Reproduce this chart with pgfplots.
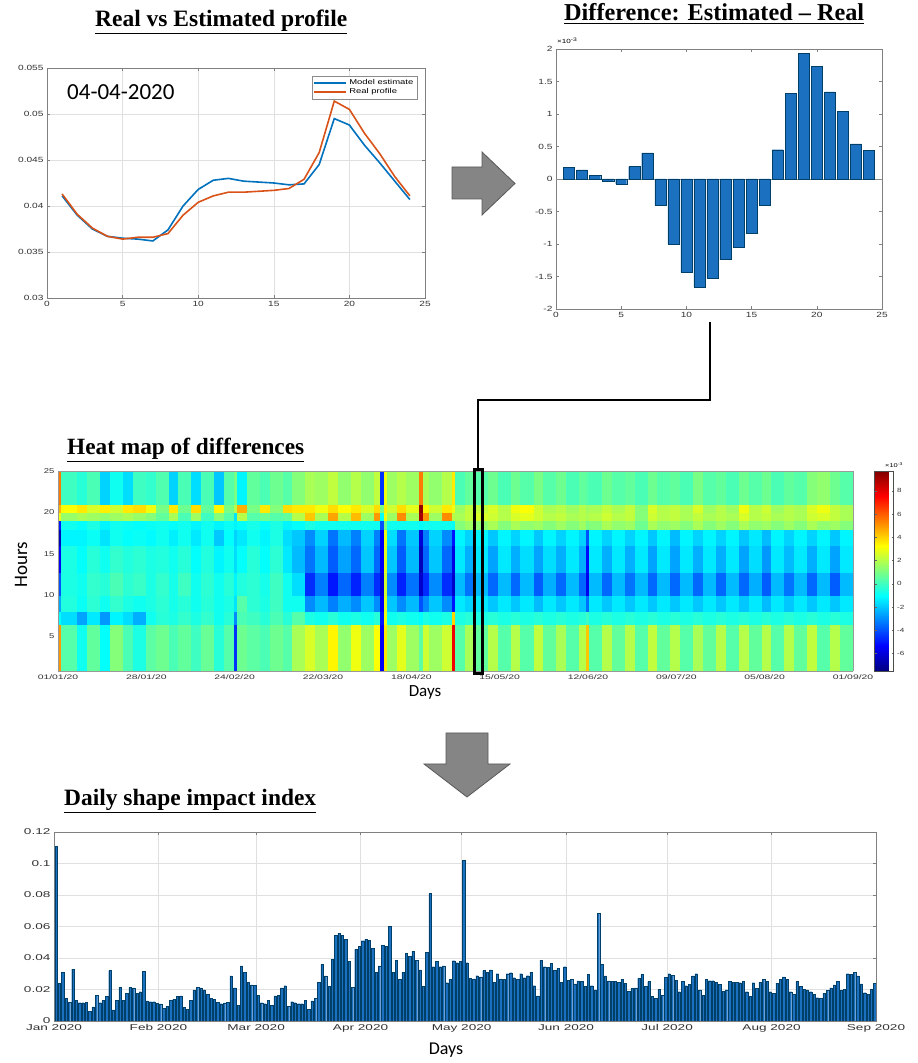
\documentclass[border=0pt]{standalone}
\usepackage{graphicx}
\usepackage{pgfplots}
\pgfplotsset{compat=1.18}
\usepackage{fontspec}
\setmainfont{Liberation Serif}
\newfontfamily\tf[FakeStretch=1.35]{Liberation Sans}
\newfontfamily\tfw[FakeStretch=1.6]{Liberation Sans}
\newfontfamily\cb{Carlito}
\definecolor{mblue}{RGB}{0,114,189}
\definecolor{morange}{RGB}{217,83,25}
\definecolor{barblue}{RGB}{28,112,192}
\pgfplotsset{
  matax/.style={
    scale only axis,
    scaled ticks=false,
    axis line style={black!50},
    tick style={black!50, line width=0.4pt},
    major tick length=3pt,
    tick align=inside,
    /pgf/number format/assume math mode=true,
    tick label style={text=black!80},
  }
}
\begin{document}
\begin{tikzpicture}
\fill[white] (0pt,0pt) rectangle (918pt,1063pt);
\useasboundingbox (0pt,0pt) rectangle (918pt,1063pt);

% ---------------- Top left: profiles
\begin{axis}[matax, at={(47pt,765pt)}, anchor=south west, width=378pt, height=230pt,
  xmin=0, xmax=25, ymin=0.03, ymax=0.055,
  xtick={0,5,10,15,20,25}, xticklabels={0,5,10,15,20,25},
  ytick={0.03,0.035,0.04,0.045,0.05,0.055}, yticklabels={0.03,0.035,0.04,0.045,0.05,0.055},
  grid=major, grid style={black!12},
  tick label style={font=\tf\fontsize{7.5}{8}\selectfont},
  legend style={at={(0.979,0.965)}, anchor=north east, font=\tf\fontsize{7}{8}\selectfont,
    draw=black!45, inner sep=1.5pt, row sep=-1.5pt},
  legend cell align=left,
  legend image code/.code={\draw[#1] (0pt,0pt) -- (32pt,0pt);},
]
\addplot[mblue, line width=1.6pt] coordinates {(1,0.0411)(2,0.0390)(3,0.0375)(4,0.0367)(5,0.0365)(6,0.0364)(7,0.0362)(8,0.0374)(9,0.0400)(10,0.0418)(11,0.0428)(12,0.0430)(13,0.0427)(14,0.0426)(15,0.0425)(16,0.0423)(17,0.0424)(18,0.0445)(19,0.0495)(20,0.0488)(21,0.0466)(22,0.0447)(23,0.0427)(24,0.0407)};
\addlegendentry{Model estimate}
\addplot[morange, line width=1.6pt] coordinates {(1,0.0413)(2,0.0391)(3,0.0376)(4,0.0367)(5,0.0364)(6,0.0366)(7,0.0366)(8,0.0370)(9,0.0390)(10,0.0404)(11,0.0411)(12,0.0415)(13,0.0415)(14,0.0416)(15,0.0417)(16,0.0419)(17,0.0429)(18,0.0458)(19,0.0514)(20,0.0505)(21,0.0479)(22,0.0457)(23,0.0432)(24,0.0411)};
\addlegendentry{Real profile}
\end{axis}

% ---------------- Top right: difference bars
\begin{axis}[matax, at={(556pt,754pt)}, anchor=south west, width=326pt, height=260pt,
  xmin=0, xmax=25, ymin=-2, ymax=2,
  xtick={0,5,10,15,20,25}, xticklabels={0,5,10,15,20,25},
  ytick={-2,-1.5,-1,-0.5,0,0.5,1,1.5,2}, yticklabels={-2,-1.5,-1,-0.5,0,0.5,1,1.5,2},
  tick label style={font=\tf\fontsize{7.5}{8}\selectfont},
]
\draw[black!45, line width=0.6pt] (axis cs:0,0) -- (axis cs:25,0);
\addplot[ybar, bar width=0.85, fill=barblue, draw=mblue!55!black, line width=0.3pt] coordinates {(1,0.18)(2,0.14)(3,0.06)(4,-0.03)(5,-0.08)(6,0.19)(7,0.40)(8,-0.41)(9,-1.00)(10,-1.43)(11,-1.66)(12,-1.53)(13,-1.24)(14,-1.05)(15,-0.84)(16,-0.40)(17,0.45)(18,1.32)(19,1.93)(20,1.73)(21,1.34)(22,1.04)(23,0.54)(24,0.44)};
\end{axis}

% ---------------- Heat map
\begin{axis}[at={(58pt,392pt)}, anchor=south west, width=795pt, height=200pt, scale only axis,
  view={0}{90}, xmin=0, xmax=244, ymin=0.8, ymax=25, ztick=\empty,
  xtick={0,27.111,54.222,81.333,108.444,135.556,162.667,189.778,216.889,244},
  xticklabels={01/01/20,28/01/20,24/02/20,22/03/20,18/04/20,15/05/20,12/06/20,09/07/20,05/08/20,01/09/20},
  ytick={5,10,15,20,25}, yticklabels={5,10,15,20,25},
  major tick length=0pt, axis line style={black!40}, axis on top,
  xticklabel style={font=\tfw\fontsize{6.5}{7}\selectfont, text=black!80},
  yticklabel style={font=\tf\fontsize{7}{8}\selectfont, text=black!80},
  colormap/jet, point meta min=-7.5, point meta max=9.7,
  colorbar,
  colorbar style={at={(parent axis.north east)}, anchor=north west, xshift=13pt,
    width=19pt, scale only axis,
    ytick={-6,-4,-2,0,2,4,6,8}, yticklabels={-6,-4,-2,0,2,4,6,8},
    yticklabel style={font=\tf\fontsize{6}{7}\selectfont, text=black!80},
    major tick length=2pt, axis line style={black!70}, tick style={black!60}},
]
\addplot3[surf, shader=flat corner] coordinates {
(0,0.8,5) (0,6.5,-1) (0,8,-2.5) (0,10,-4) (0,12.75,-5.5) (0,16,-6.5) (0,18,-5) (0,19,3) (0,20,4.5) (0,21,5.5) (0,25,5.5)

(1,0.8,0.4) (1,6.5,-1.6) (1,8,-0.5) (1,10,-0.6) (1,12.75,-0.6) (1,16,-1.2) (1,18,-0.8) (1,19,1.5) (1,20,3.2) (1,21,0) (1,25,0)

(6,0.8,-0.8) (6,6.5,-2.6) (6,8,-0.9) (6,10,-0.8) (6,12.75,-1) (6,16,-1.2) (6,18,-1) (6,19,1.8) (6,20,3.6) (6,21,-0.4) (6,25,-0.4)

(9,0.8,0.6) (9,6.5,-1.4) (9,8,-0.3) (9,10,-0.2) (9,12.75,-0.4) (9,16,-0.9) (9,18,-0.6) (9,19,1.6) (9,20,2.6) (9,21,0.2) (9,25,0.2)

(13,0.8,-1) (13,6.5,-2.8) (13,8,-0.8) (13,10,-0.4) (13,12.75,-0.8) (13,16,-1.5) (13,18,-1.2) (13,19,1.4) (13,20,3.5) (13,21,-1.8) (13,25,-1.8)

(16,0.8,1.2) (16,6.5,-1.2) (16,8,-0.2) (16,10,0.2) (16,12.75,-0.2) (16,16,-0.8) (16,18,-0.8) (16,19,1.6) (16,20,2.4) (16,21,-0.8) (16,25,-0.8)

(20,0.8,0.2) (20,6.5,-1.6) (20,8,-0.6) (20,10,-0.3) (20,12.75,-0.5) (20,16,-1) (20,18,-0.9) (20,19,1.8) (20,20,3.6) (20,21,-1.6) (20,25,-1.6)

(23,0.8,-0.6) (23,6.5,-2.4) (23,8,-0.8) (23,10,-0.1) (23,12.75,-0.3) (23,16,-0.9) (23,18,-1) (23,19,1.5) (23,20,3.8) (23,21,0) (23,25,0)

(27,0.8,0.5) (27,6.5,-0.8) (27,8,-0.6) (27,10,-0.6) (27,12.75,-0.6) (27,16,-1.1) (27,18,-0.9) (27,19,1.2) (27,20,3) (27,21,-0.2) (27,25,-0.2)

(30,0.8,0.8) (30,6.5,-0.4) (30,8,-0.3) (30,10,-0.2) (30,12.75,-0.5) (30,16,-0.8) (30,18,-0.8) (30,19,0.6) (30,20,1) (30,21,0.3) (30,25,0.3)

(34,0.8,0.2) (34,6.5,-0.6) (34,8,-0.7) (34,10,-0.7) (34,12.75,-0.8) (34,16,-1.3) (34,18,-1) (34,19,1.8) (34,20,3.6) (34,21,-1.8) (34,25,-1.8)

(37,0.8,0.6) (37,6.5,-0.2) (37,8,-0.4) (37,10,0) (37,12.75,-0.4) (37,16,-0.8) (37,18,-0.8) (37,19,0.2) (37,20,0.8) (37,21,0.2) (37,25,0.2)

(41,0.8,0) (41,6.5,-0.6) (41,8,-0.8) (41,10,-0.8) (41,12.75,-1) (41,16,-1.4) (41,18,-1.2) (41,19,1.6) (41,20,3.8) (41,21,-1.6) (41,25,-1.6)

(44,0.8,0.7) (44,6.5,-0.2) (44,8,-0.4) (44,10,-0.3) (44,12.75,-0.5) (44,16,-0.8) (44,18,-0.8) (44,19,0) (44,20,0.6) (44,21,0.2) (44,25,0.2)

(48,0.8,-0.4) (48,6.5,-0.8) (48,8,-0.8) (48,10,-0.8) (48,12.75,-1.2) (48,16,-2) (48,18,-1.2) (48,19,1.2) (48,20,3.4) (48,21,-2) (48,25,-2)

(51,0.8,0.4) (51,6.5,-0.4) (51,8,-0.6) (51,10,-0.4) (51,12.75,-0.8) (51,16,-1) (51,18,-0.9) (51,19,0.4) (51,20,1) (51,21,0.4) (51,25,0.4)

(54,0.8,-4.5) (54,6.5,-3) (54,8,-1.5) (54,10,-1.2) (54,12.75,-1.6) (54,16,-1.8) (54,18,-1.2) (54,19,-1.5) (54,20,2) (54,21,1) (54,25,1)

(55,0.8,0.8) (55,6.5,0.2) (55,8,0.4) (55,10,-0.5) (55,12.75,-1) (55,16,-1.4) (55,18,-1) (55,19,2) (55,20,4.6) (55,21,-1.2) (55,25,-1.2)

(58,0.8,0.5) (58,6.5,0) (58,8,-0.3) (58,10,-0.3) (58,12.75,-0.4) (58,16,-0.8) (58,18,-0.7) (58,19,0.4) (58,20,1) (58,21,0.6) (58,25,0.6)

(62,0.8,0.2) (62,6.5,-0.4) (62,8,-0.6) (62,10,-0.7) (62,12.75,-1) (62,16,-1.2) (62,18,-1) (62,19,0.8) (62,20,3.6) (62,21,0.2) (62,25,0.2)

(65,0.8,0.8) (65,6.5,0.2) (65,8,0) (65,10,0) (65,12.75,-0.3) (65,16,-0.6) (65,18,-0.6) (65,19,0.4) (65,20,1.2) (65,21,0.8) (65,25,0.8)

(69,0.8,0.4) (69,6.5,-0.4) (69,8,-0.8) (69,10,-0.8) (69,12.75,-1.4) (69,16,-1.6) (69,18,-1.2) (69,19,0.6) (69,20,3.8) (69,21,0.4) (69,25,0.4)

(72,0.8,1.8) (72,6.5,0.4) (72,8,-0.8) (72,10,-1.6) (72,12.75,-2.2) (72,16,-2) (72,18,-1) (72,19,2) (72,20,3.6) (72,21,1.2) (72,25,1.2)

(76,0.8,2.6) (76,6.5,-0.6) (76,8,-3) (76,10,-4.6) (76,12.75,-3.4) (76,16,-3) (76,18,-0.6) (76,19,4.2) (76,20,3.6) (76,21,1.8) (76,25,1.8)

(79,0.8,1.8) (79,6.5,-0.8) (79,8,-2.2) (79,10,-3.2) (79,12.75,-2.2) (79,16,-1.8) (79,18,-0.8) (79,19,1.8) (79,20,3) (79,21,1.6) (79,25,1.6)

(83,0.8,3.4) (83,6.5,-0.4) (83,8,-3.2) (83,10,-5) (83,12.75,-3.8) (83,16,-3.4) (83,18,-0.8) (83,19,4.8) (83,20,3.8) (83,21,2.2) (83,25,2.2)

(86,0.8,1.4) (86,6.5,-0.8) (86,8,-2.4) (86,10,-3.6) (86,12.75,-2.6) (86,16,-2.2) (86,18,-0.8) (86,19,2) (86,20,3.2) (86,21,1.4) (86,25,1.4)

(90,0.8,3) (90,6.5,-0.6) (90,8,-3) (90,10,-4.8) (90,12.75,-3.6) (90,16,-3.2) (90,18,-0.8) (90,19,4.4) (90,20,3.6) (90,21,2) (90,25,2)

(93,0.8,1.6) (93,6.5,-0.8) (93,8,-2) (93,10,-3.2) (93,12.75,-2) (93,16,-1.8) (93,18,-0.8) (93,19,1.6) (93,20,2.6) (93,21,1.4) (93,25,1.4)

(97,0.8,3.2) (97,6.5,-0.4) (97,8,-3) (97,10,-4.6) (97,12.75,-3.6) (97,16,-3.2) (97,18,-0.8) (97,19,5) (97,20,3.8) (97,21,2.2) (97,25,2.2)

(99,0.8,-5.5) (99,6.5,-5) (99,8,-5.5) (99,10,-6) (99,12.75,-5.5) (99,16,-5.5) (99,18,-4) (99,19,-1) (99,20,1) (99,21,-4.5) (99,25,-4.5)

(100,0.8,3.6) (100,6.5,3) (100,8,2.8) (100,10,2.5) (100,12.75,2.8) (100,16,3) (100,18,1) (100,19,3) (100,20,3.5) (100,21,3) (100,25,3)

(101,0.8,1.6) (101,6.5,-0.8) (101,8,-2) (101,10,-3) (101,12.75,-2) (101,16,-1.6) (101,18,-0.8) (101,19,1.6) (101,20,2.4) (101,21,1.6) (101,25,1.6)

(104,0.8,2.8) (104,6.5,-0.6) (104,8,-3) (104,10,-4.8) (104,12.75,-3.8) (104,16,-3.4) (104,18,-0.8) (104,19,5.2) (104,20,3.8) (104,21,2) (104,25,2)

(107,0.8,1.6) (107,6.5,-0.8) (107,8,-2.2) (107,10,-3.4) (107,12.75,-2.2) (107,16,-2) (107,18,-0.8) (107,19,1.8) (107,20,2.8) (107,21,1.6) (107,25,1.6)

(111,0.8,0.5) (111,6.5,-1) (111,8,-4) (111,10,-6.2) (111,12.75,-6.5) (111,16,-6) (111,18,-1) (111,19,9) (111,20,9.5) (111,21,5.5) (111,25,5.5)

(112,0.8,2.4) (112,6.5,-0.6) (112,8,-3) (112,10,-4.6) (112,12.75,-3.6) (112,16,-3.2) (112,18,-0.8) (112,19,5) (112,20,3.4) (112,21,1.8) (112,25,1.8)

(114,0.8,1.6) (114,6.5,-0.8) (114,8,-2) (114,10,-3) (114,12.75,-2) (114,16,-1.8) (114,18,-0.8) (114,19,1.6) (114,20,2.4) (114,21,1.4) (114,25,1.4)

(118,0.8,2.4) (118,6.5,-0.6) (118,8,-3) (118,10,-4.6) (118,12.75,-3.6) (118,16,-3) (118,18,-0.8) (118,19,5.2) (118,20,3.6) (118,21,2) (118,25,2)

(121,0.8,7.8) (121,6.5,4) (121,8,-5) (121,10,-6.2) (121,12.75,-5.8) (121,16,-5) (121,18,-1) (121,19,2) (121,20,3) (121,21,3.6) (121,25,3.6)

(122,0.8,0.4) (122,6.5,-0.6) (122,8,-1.4) (122,10,-2.2) (122,12.75,-1.4) (122,16,-1.2) (122,18,1.2) (122,19,1.8) (122,20,1.6) (122,21,0.2) (122,25,0.2)

(125,0.8,1.8) (125,6.5,-0.4) (125,8,-1.8) (125,10,-3.4) (125,12.75,-2.4) (125,16,-1.8) (125,18,1.6) (125,19,2.2) (125,20,2.2) (125,21,0.6) (125,25,0.6)

(128,0.8,0.6) (128,6.5,-0.6) (128,8,-1.4) (128,10,-2.2) (128,12.75,-1.4) (128,16,-1.2) (128,18,1.4) (128,19,2.6) (128,20,2.2) (128,21,0.4) (128,25,0.4)

(132,0.8,2) (132,6.5,-0.4) (132,8,-2) (132,10,-3.6) (132,12.75,-2.6) (132,16,-2) (132,18,1.8) (132,19,2.4) (132,20,2.6) (132,21,0.8) (132,25,0.8)

(135,0.8,0.4) (135,6.5,-0.6) (135,8,-1.4) (135,10,-2.2) (135,12.75,-1.4) (135,16,-1.2) (135,18,1.2) (135,19,2) (135,20,2) (135,21,0.2) (135,25,0.2)

(139,0.8,2) (139,6.5,-0.4) (139,8,-2) (139,10,-3.6) (139,12.75,-2.4) (139,16,-1.8) (139,18,1.8) (139,19,2.6) (139,20,3) (139,21,0.8) (139,25,0.8)

(142,0.8,0.4) (142,6.5,-0.6) (142,8,-1.4) (142,10,-2.2) (142,12.75,-1.6) (142,16,-1.2) (142,18,1.4) (142,19,2.8) (142,20,3.2) (142,21,0.4) (142,25,0.4)

(146,0.8,2.2) (146,6.5,-0.4) (146,8,-2.2) (146,10,-3.8) (146,12.75,-2.6) (146,16,-2) (146,18,1.6) (146,19,2.4) (146,20,2.4) (146,21,1) (146,25,1)

(149,0.8,0.6) (149,6.5,-0.6) (149,8,-1.4) (149,10,-2.4) (149,12.75,-1.6) (149,16,-1.2) (149,18,1.2) (149,19,2) (149,20,1.8) (149,21,0.4) (149,25,0.4)

(153,0.8,1.8) (153,6.5,-0.4) (153,8,-2) (153,10,-3.6) (153,12.75,-2.4) (153,16,-1.8) (153,18,1.6) (153,19,2.2) (153,20,2) (153,21,0.8) (153,25,0.8)

(156,0.8,0.4) (156,6.5,-0.6) (156,8,-1.4) (156,10,-2.2) (156,12.75,-1.4) (156,16,-1.2) (156,18,1.2) (156,19,1.8) (156,20,1.6) (156,21,0.2) (156,25,0.2)

(160,0.8,2) (160,6.5,-0.4) (160,8,-2) (160,10,-3.6) (160,12.75,-2.4) (160,16,-1.8) (160,18,1.6) (160,19,2) (160,20,2) (160,21,0.6) (160,25,0.6)

(162,0.8,4.2) (162,6.5,0) (162,8,-3.5) (162,10,-5.6) (162,12.75,-5.2) (162,16,-4) (162,18,1) (162,19,1.8) (162,20,1.6) (162,21,0.4) (162,25,0.4)

(163,0.8,0.4) (163,6.5,-0.6) (163,8,-1.4) (163,10,-2.2) (163,12.75,-1.4) (163,16,-1.2) (163,18,1.2) (163,19,2) (163,20,1.8) (163,21,0.2) (163,25,0.2)

(167,0.8,2) (167,6.5,-0.4) (167,8,-2) (167,10,-3.6) (167,12.75,-2.4) (167,16,-1.8) (167,18,1.8) (167,19,2.4) (167,20,2.2) (167,21,0.8) (167,25,0.8)

(170,0.8,0.6) (170,6.5,-0.6) (170,8,-1.4) (170,10,-2.2) (170,12.75,-1.4) (170,16,-1.2) (170,18,1.4) (170,19,2) (170,20,1.8) (170,21,0.4) (170,25,0.4)

(174,0.8,2) (174,6.5,-0.4) (174,8,-2) (174,10,-3.4) (174,12.75,-2.4) (174,16,-1.8) (174,18,1.6) (174,19,2.2) (174,20,2.2) (174,21,0.6) (174,25,0.6)

(177,0.8,0.4) (177,6.5,-0.6) (177,8,-1.4) (177,10,-2.2) (177,12.75,-1.4) (177,16,-1.2) (177,18,0.8) (177,19,1.2) (177,20,1.2) (177,21,0.2) (177,25,0.2)

(181,0.8,2.2) (181,6.5,-0.4) (181,8,-2) (181,10,-3.6) (181,12.75,-2.6) (181,16,-2) (181,18,1.8) (181,19,2.4) (181,20,2.6) (181,21,0.8) (181,25,0.8)

(184,0.8,0.6) (184,6.5,-0.6) (184,8,-1.4) (184,10,-2.2) (184,12.75,-1.4) (184,16,-1.2) (184,18,1.4) (184,19,2) (184,20,2) (184,21,0.4) (184,25,0.4)

(188,0.8,2) (188,6.5,-0.4) (188,8,-2) (188,10,-3.6) (188,12.75,-2.6) (188,16,-2.2) (188,18,1.6) (188,19,2.2) (188,20,2.2) (188,21,0.6) (188,25,0.6)

(191,0.8,0.4) (191,6.5,-0.6) (191,8,-1.4) (191,10,-2.2) (191,12.75,-1.4) (191,16,-1.2) (191,18,1.2) (191,19,1.8) (191,20,1.8) (191,21,0.2) (191,25,0.2)

(195,0.8,1.8) (195,6.5,-0.4) (195,8,-2) (195,10,-3.6) (195,12.75,-2.4) (195,16,-1.8) (195,18,1.8) (195,19,2.2) (195,20,2.6) (195,21,1) (195,25,1)

(198,0.8,0.6) (198,6.5,-0.6) (198,8,-1.4) (198,10,-2.2) (198,12.75,-1.4) (198,16,-1.2) (198,18,1.2) (198,19,1.8) (198,20,1.6) (198,21,0.4) (198,25,0.4)

(202,0.8,2) (202,6.5,-0.4) (202,8,-2) (202,10,-3.6) (202,12.75,-2.4) (202,16,-1.8) (202,18,1.6) (202,19,2) (202,20,2) (202,21,0.6) (202,25,0.6)

(205,0.8,0.4) (205,6.5,-0.6) (205,8,-1.4) (205,10,-2.2) (205,12.75,-1.4) (205,16,-1.2) (205,18,1.2) (205,19,1.8) (205,20,1.6) (205,21,0.2) (205,25,0.2)

(209,0.8,2) (209,6.5,-0.4) (209,8,-2) (209,10,-3.6) (209,12.75,-2.6) (209,16,-2) (209,18,1.8) (209,19,2.6) (209,20,3) (209,21,0.8) (209,25,0.8)

(212,0.8,0.6) (212,6.5,-0.6) (212,8,-1.4) (212,10,-2.4) (212,12.75,-1.6) (212,16,-1.4) (212,18,1.4) (212,19,2) (212,20,2) (212,21,0.4) (212,25,0.4)

(216,0.8,2) (216,6.5,-0.4) (216,8,-2.2) (216,10,-3.8) (216,12.75,-2.8) (216,16,-2.2) (216,18,1.6) (216,19,2.2) (216,20,2.4) (216,21,0.8) (216,25,0.8)

(219,0.8,0.4) (219,6.5,-0.6) (219,8,-1.4) (219,10,-2.2) (219,12.75,-1.4) (219,16,-1.2) (219,18,1.2) (219,19,1.8) (219,20,1.6) (219,21,0.2) (219,25,0.2)

(223,0.8,2) (223,6.5,-0.4) (223,8,-2) (223,10,-3.4) (223,12.75,-2.2) (223,16,-1.8) (223,18,1.6) (223,19,2) (223,20,2) (223,21,0.6) (223,25,0.6)

(226,0.8,0.6) (226,6.5,-0.6) (226,8,-1.4) (226,10,-2.2) (226,12.75,-1.4) (226,16,-1.2) (226,18,1.2) (226,19,1.8) (226,20,1.8) (226,21,0.4) (226,25,0.4)

(230,0.8,2.2) (230,6.5,-0.4) (230,8,-2) (230,10,-3.6) (230,12.75,-2.4) (230,16,-1.8) (230,18,1.8) (230,19,2.4) (230,20,2.6) (230,21,1.2) (230,25,1.2)

(233,0.8,0.4) (233,6.5,-0.6) (233,8,-1.4) (233,10,-2.2) (233,12.75,-1.4) (233,16,-1.2) (233,18,1.4) (233,19,2.6) (233,20,3) (233,21,1.4) (233,25,1.4)

(237,0.8,2) (237,6.5,-0.4) (237,8,-2) (237,10,-3.8) (237,12.75,-2.6) (237,16,-2) (237,18,1.6) (237,19,2.2) (237,20,2.2) (237,21,0.8) (237,25,0.8)

(240,0.8,0.6) (240,6.5,-0.6) (240,8,-1.4) (240,10,-2.2) (240,12.75,-1.4) (240,16,-1.2) (240,18,1.2) (240,19,1.8) (240,20,1.8) (240,21,0.4) (240,25,0.4)

(244,0.8,0.6) (244,6.5,-0.6) (244,8,-1.4) (244,10,-2.2) (244,12.75,-1.4) (244,16,-1.2) (244,18,1.2) (244,19,1.8) (244,20,1.8) (244,21,0.4) (244,25,0.4)
};
\end{axis}

% ---------------- Bottom: daily index
\begin{axis}[matax, at={(54pt,42pt)}, anchor=south west, width=822pt, height=189pt,
  xmin=-0.6, xmax=243.4, ymin=0, ymax=0.12,
  xtick={-0.6,30.4,59.4,90.4,120.4,151.4,181.4,212.4,243.4},
  xticklabels={Jan 2020,Feb 2020,Mar 2020,Apr 2020,May 2020,Jun 2020,Jul 2020,Aug 2020,Sep 2020},
  ytick={0,0.02,0.04,0.06,0.08,0.1,0.12}, yticklabels={0,0.02,0.04,0.06,0.08,0.1,0.12},
  grid=major, grid style={black!12},
  tick label style={font=\tfw\fontsize{8.5}{9}\selectfont},
]
\addplot[ybar, bar width=0.72, fill=barblue, draw=mblue!55!black, line width=0.25pt] coordinates {
(0,0.111)(1,0.024)(2,0.031)(3,0.0145)(4,0.012)(5,0.033)(6,0.013)(7,0.0116)(8,0.0116)(9,0.012)
(10,0.006)(11,0.009)(12,0.0165)(13,0.0116)(14,0.013)(15,0.0155)(16,0.032)(17,0.007)(18,0.013)(19,0.0214)
(20,0.013)(21,0.0176)(22,0.0214)(23,0.021)(24,0.0176)(25,0.0186)(26,0.0317)(27,0.0127)(28,0.0123)(29,0.0123)
(30,0.0112)(31,0.0108)(32,0.008)(33,0.0095)(34,0.013)(35,0.0138)(36,0.0155)(37,0.016)(38,0.0085)(39,0.0074)
(40,0.013)(41,0.0197)(42,0.0214)(43,0.021)(44,0.0197)(45,0.017)(46,0.0144)(47,0.0138)(48,0.012)(49,0.011)
(50,0.0115)(51,0.012)(52,0.0286)(53,0.021)(54,0.010)(55,0.035)(56,0.031)(57,0.0245)(58,0.023)(59,0.0225)
(60,0.0165)(61,0.0116)(62,0.011)(63,0.013)(64,0.010)(65,0.016)(66,0.0165)(67,0.021)(68,0.0224)(69,0.0095)
(70,0.0123)(71,0.0116)(72,0.011)(73,0.011)(74,0.013)(75,0.0074)(76,0.0127)(77,0.0144)(78,0.0245)(79,0.036)
(80,0.0286)(81,0.022)(82,0.039)(83,0.0546)(84,0.0557)(85,0.0546)(86,0.052)(87,0.0377)(88,0.0212)(89,0.0455)
(90,0.0476)(91,0.051)(92,0.0518)(93,0.0514)(94,0.046)(95,0.031)(96,0.035)(97,0.048)(98,0.0476)(99,0.060)
(100,0.031)(101,0.0387)(102,0.0265)(103,0.031)(104,0.043)(105,0.041)(106,0.0444)(107,0.0387)(108,0.0324)(109,0.0222)
(110,0.0436)(111,0.081)(112,0.0345)(113,0.0377)(114,0.0345)(115,0.035)(116,0.0243)(117,0.0265)(118,0.0383)(119,0.037)
(120,0.0377)(121,0.102)(122,0.037)(123,0.027)(124,0.0267)(125,0.0288)(126,0.028)(127,0.032)(128,0.031)(129,0.0324)
(130,0.0245)(131,0.030)(132,0.0267)(133,0.0265)(134,0.030)(135,0.0307)(136,0.0275)(137,0.0265)(138,0.030)(139,0.0275)
(140,0.0288)(141,0.031)(142,0.0224)(143,0.016)(144,0.0387)(145,0.0345)(146,0.034)(147,0.0366)(148,0.032)(149,0.0334)
(150,0.0245)(151,0.0345)(152,0.026)(153,0.0265)(154,0.0235)(155,0.0254)(156,0.025)(157,0.0222)(158,0.0296)(159,0.0224)
(160,0.0197)(161,0.0684)(162,0.036)(163,0.0286)(164,0.0254)(165,0.025)(166,0.025)(167,0.0245)(168,0.0265)(169,0.024)
(170,0.019)(171,0.0207)(172,0.021)(173,0.027)(174,0.0296)(175,0.0222)(176,0.025)(177,0.0155)(178,0.0144)(179,0.020)
(180,0.0165)(181,0.0277)(182,0.030)(183,0.029)(184,0.026)(185,0.0186)(186,0.025)(187,0.0224)(188,0.0233)(189,0.0286)
(190,0.030)(191,0.0197)(192,0.0165)(193,0.0265)(194,0.0256)(195,0.0256)(196,0.0245)(197,0.0233)(198,0.019)(199,0.0197)
(200,0.025)(201,0.0245)(202,0.0245)(203,0.0243)(204,0.025)(205,0.0186)(206,0.0155)(207,0.0243)(208,0.0207)(209,0.0245)
(210,0.0265)(211,0.025)(212,0.0186)(213,0.0176)(214,0.024)(215,0.0265)(216,0.028)(217,0.0265)(218,0.0186)(219,0.017)
(220,0.025)(221,0.0222)(222,0.020)(223,0.0197)(224,0.0186)(225,0.017)(226,0.0148)(227,0.0144)(228,0.0176)(229,0.0193)
(230,0.021)(231,0.023)(232,0.025)(233,0.0193)(234,0.020)(235,0.030)(236,0.0296)(237,0.031)(238,0.0286)(239,0.0235)
(240,0.018)(241,0.017)(242,0.020)(243,0.024)
};
\end{axis}

% ---------------- Titles and texts
\node[anchor=base west, inner sep=0] at (95pt,1036pt) {\resizebox{252pt}{!}{\fontsize{20}{24}\selectfont\bfseries\underline{Real vs Estimated profile}}};
\node[anchor=base west, inner sep=0] at (564pt,1042pt) {\resizebox{300pt}{!}{\fontsize{20}{24}\selectfont\bfseries\underline{Difference: Estimated \textendash\ Real}}};
\node[anchor=base west, inner sep=0] at (67pt,608pt) {\resizebox{237pt}{!}{\fontsize{20}{24}\selectfont\bfseries\underline{Heat map of differences}}};
\node[anchor=base west, inner sep=0] at (64pt,257pt) {\resizebox{252pt}{!}{\fontsize{20}{24}\selectfont\bfseries\underline{Daily shape impact index}}};
\node[anchor=base west, inner sep=0] at (67pt,963pt) {\cb\fontsize{23}{27}\selectfont 04-04-2020};
\node[anchor=base west, inner sep=0] at (557pt,1019pt) {\tf\fontsize{6}{7}\selectfont ×10\textsuperscript{-3}};
\node[anchor=base west, inner sep=0] at (885pt,595pt) {\tf\fontsize{5.5}{6}\selectfont ×10\textsuperscript{-3}};
\node[rotate=90, inner sep=0] at (21pt,498pt) {\cb\fontsize{19}{22}\selectfont Hours};
\node[inner sep=0] at (425pt,371pt) {\cb\fontsize{17}{20}\selectfont Days};
\node[inner sep=0] at (446pt,13pt) {\cb\fontsize{18}{21}\selectfont Days};

% ---------------- Arrows and connectors
\draw[black!65, line width=0.8pt, fill=black!48] (452pt,864pt) -- (482pt,864pt) -- (482pt,848pt) -- (515pt,879.5pt) -- (482pt,911pt) -- (482pt,896pt) -- (452pt,896pt) -- cycle;
\draw[black!65, line width=0.8pt, fill=black!48] (446pt,330pt) -- (488pt,330pt) -- (488pt,299pt) -- (510pt,299pt) -- (467pt,266pt) -- (424pt,299pt) -- (446pt,299pt) -- cycle;
\draw[black, line width=2pt] (710pt,741pt) -- (710pt,663pt) -- (478pt,663pt) -- (478pt,595pt);
\draw[black, line width=3pt] (474.5pt,593.5pt) rectangle (482.5pt,389.5pt);
\end{tikzpicture}
\end{document}
